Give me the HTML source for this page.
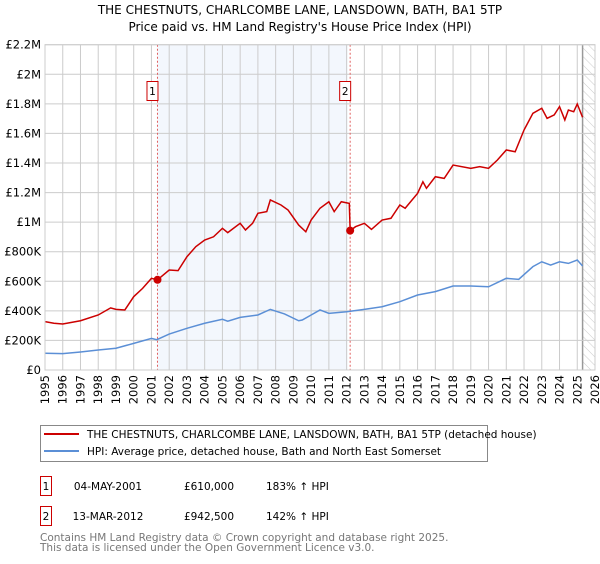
<!DOCTYPE html>
<html><head><meta charset="utf-8"><style>
body{margin:0;background:#fff;font-family:"DejaVu Sans","Liberation Sans",sans-serif;}
svg text{font-family:"DejaVu Sans","Liberation Sans",sans-serif;}
</style></head><body>
<svg id="chart" width="600" height="560" viewBox="0 0 600 560" xmlns="http://www.w3.org/2000/svg">
<defs><pattern id="hatch" width="6" height="6" patternUnits="userSpaceOnUse" patternTransform="rotate(-45)"><line x1="0" y1="0" x2="0" y2="6" stroke="#ccc" stroke-width="1"/></pattern></defs>
<text x="300" y="14" text-anchor="middle" font-size="12">THE CHESTNUTS, CHARLCOMBE LANE, LANSDOWN, BATH, BA1 5TP</text>
<text x="300" y="31" text-anchor="middle" font-size="12">Price paid vs. HM Land Registry's House Price Index (HPI)</text>
<g id="plot"></g>
<g>
<rect x="40.5" y="425.5" width="447" height="36" fill="#fff" stroke="#888"/>
<line x1="44" y1="434" x2="79" y2="434" stroke="#cc0000" stroke-width="2"/>
<text x="87" y="438" font-size="10.5">THE CHESTNUTS, CHARLCOMBE LANE, LANSDOWN, BATH, BA1 5TP (detached house)</text>
<line x1="44" y1="451" x2="79" y2="451" stroke="#5b8fd6" stroke-width="2"/>
<text x="87" y="455" font-size="10.5">HPI: Average price, detached house, Bath and North East Somerset</text>
</g>
<g font-size="10.5">
<rect x="40.5" y="476.5" width="11" height="19" fill="#fff" stroke="#cc0000"/><text x="46" y="490" text-anchor="middle">1</text>
<text x="108" y="490" text-anchor="middle">04-MAY-2001</text><text x="209" y="490" text-anchor="middle">£610,000</text><text x="266" y="490">183% ↑ HPI</text>
<rect x="40.5" y="506.5" width="11" height="19" fill="#fff" stroke="#cc0000"/><text x="46" y="520" text-anchor="middle">2</text>
<text x="108" y="520" text-anchor="middle">13-MAR-2012</text><text x="209" y="520" text-anchor="middle">£942,500</text><text x="266" y="520">142% ↑ HPI</text>
</g>
<text x="40" y="541" font-size="10.5" fill="#777">Contains HM Land Registry data © Crown copyright and database right 2025.</text>
<text x="40" y="551" font-size="10.5" fill="#777">This data is licensed under the Open Government Licence v3.0.</text>
</svg>
<script>
const yTicks=[0,200000,400000,600000,800000,1000000,1200000,1400000,1600000,1800000,2000000,2200000];
const yTickLabels=["£0","£200K","£400K","£600K","£800K","£1M","£1.2M","£1.4M","£1.6M","£1.8M","£2M","£2.2M"];
const xYears=[1995,1996,1997,1998,1999,2000,2001,2002,2003,2004,2005,2006,2007,2008,2009,2010,2011,2012,2013,2014,2015,2016,2017,2018,2019,2020,2021,2022,2023,2024,2025,2026];
const hpiT=[1995,1996,1997,1998,1999,2000,2001,2001.3,2002,2003,2004,2005,2005.3,2006,2007,2007.7,2008.5,2009.3,2009.5,2010,2010.5,2011,2012,2013,2014,2015,2016,2017,2018,2019,2020,2021,2021.7,2022.5,2023,2023.5,2024,2024.5,2025,2025.3];
const hpiV=[113000,111000,122000,135000,147000,180000,214000,205000,243000,282000,316000,343000,330000,356000,372000,410000,379000,333000,338000,372000,406000,383000,394000,410000,428000,462000,507000,530000,568000,568000,563000,620000,613000,699000,732000,710000,732000,721000,744000,703000];
const priceT=[1995,1995.5,1996,1997,1998,1998.7,1999,1999.5,2000,2000.5,2001,2001.34,2002,2002.5,2003,2003.5,2004,2004.5,2005,2005.3,2006,2006.3,2006.7,2007,2007.5,2007.7,2008.3,2008.7,2009.3,2009.7,2010,2010.5,2011,2011.3,2011.7,2012.15,2012.2,2012.5,2013,2013.4,2014,2014.5,2015,2015.3,2016,2016.3,2016.5,2017,2017.5,2018,2019,2019.5,2020,2020.5,2021,2021.5,2022,2022.5,2023,2023.3,2023.7,2024,2024.3,2024.5,2024.8,2025,2025.3];
const priceV=[327000,316000,311000,333000,372000,420000,410000,406000,496000,552000,620000,610000,676000,672000,766000,834000,879000,901000,958000,929000,992000,947000,992000,1060000,1071000,1150000,1116000,1082000,980000,935000,1014000,1094000,1138000,1071000,1138000,1127000,942500,969000,992000,951000,1014000,1026000,1116000,1094000,1195000,1273000,1229000,1307000,1296000,1386000,1364000,1375000,1364000,1420000,1488000,1476000,1623000,1736000,1770000,1702000,1725000,1781000,1691000,1758000,1747000,1799000,1709000];
const saleT=[2001.34,2012.2];
const saleV=[610000,942500];
const saleLabels=["1","2"];
const L=45,R=595,T=44.7,B=370,X0=1995,X1=2026,YMAX=2200000;
const x=t=>L+(t-X0)/(X1-X0)*(R-L);
const y=v=>B-v/YMAX*(B-T);
const NS="http://www.w3.org/2000/svg";
const g=document.getElementById('plot');
function mk(tag,attrs){const e=document.createElementNS(NS,tag);for(const k in attrs)e.setAttribute(k,attrs[k]);g.appendChild(e);return e;}
let e=mk('rect',{x:L,y:T,width:R-L,height:B-T,fill:'#fff'});


e=mk('rect',{x:x(saleT[0]),y:T,width:x(2012.05)-x(saleT[0]),height:B-T,fill:'#eef3fc',opacity:0.7});


e=mk('rect',{x:x(2025.3),y:T,width:R-x(2025.3),height:B-T,fill:'url(#hatch)'});


mk('line',{x1:x(2025.3),x2:x(2025.3),y1:T,y2:B,stroke:'#999','stroke-width':1.5});
yTicks.forEach((v,i)=>{
  const l=mk('line',{x1:L,x2:R,y1:y(v),y2:y(v),stroke:'#ccc','stroke-width':1});
  
  
  const t=mk('text',{x:L-4,y:y(v)+4,'text-anchor':'end','font-size':11.5});
  t.textContent=yTickLabels[i];
  
  
});
xYears.forEach(yr=>{
  const l=mk('line',{x1:x(yr),x2:x(yr),y1:T,y2:B,stroke:'#ccc','stroke-width':1});
  
  
  const t=mk('text',{x:0,y:0,'text-anchor':'end','font-size':11.5,transform:`translate(${x(yr)+4},${B+5}) rotate(-90)`});
  t.textContent=yr;
  
  
});
saleT.forEach((t,i)=>{
  const l=mk('line',{x1:x(t),x2:x(t),y1:T,y2:B,stroke:'#e06060','stroke-width':1,'stroke-dasharray':'2,2'});
  
  
  const bx=mk('rect',{x:x(t)-10.5,y:81.5,width:11,height:19,fill:'#fff',stroke:'#cc0000'});
  
  
  const tx=mk('text',{x:x(t)-5,y:95,'text-anchor':'middle','font-size':10.5});
  tx.textContent=saleLabels[i];
  
  
});
const hp=mk('polyline',{points:hpiT.map((t,i)=>x(t)+','+y(hpiV[i])).join(' '),fill:'none',stroke:'#5b8fd6','stroke-width':1.5});


const pp=mk('polyline',{points:priceT.map((t,i)=>x(t)+','+y(priceV[i])).join(' '),fill:'none',stroke:'#cc0000','stroke-width':1.5});


saleT.forEach((t,i)=>{
  const c=mk('circle',{cx:x(t),cy:y(saleV[i]),r:4,fill:'#cc0000'});
  
  
});
const fr=mk('rect',{x:L,y:T,width:R-L,height:B-T,fill:'none',stroke:'#ccc'});


</script>
</body></html>
